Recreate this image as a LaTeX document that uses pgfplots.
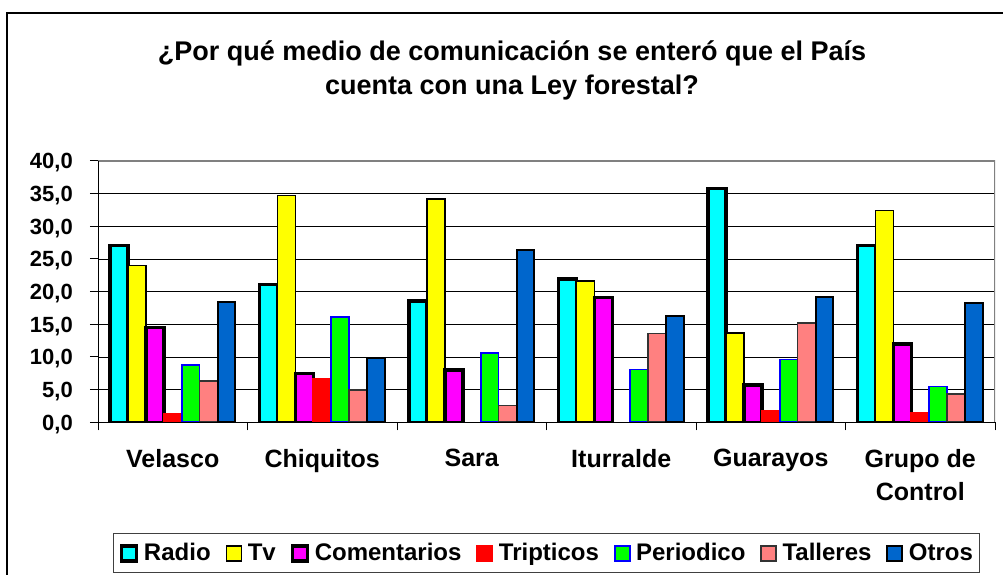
\documentclass[border=0pt]{standalone}
\usepackage{pgfplots}
\pgfplotsset{compat=1.18}
\usepackage{fontspec}
\setmainfont{Liberation Sans}

\definecolor{cRadio}{HTML}{00FFFF}
\definecolor{cTv}{HTML}{FFFF00}
\definecolor{cCom}{HTML}{FF00FF}
\definecolor{cTri}{HTML}{FF0000}
\definecolor{cPer}{HTML}{00FF00}
\definecolor{cTal}{HTML}{FF8080}
\definecolor{cOtr}{HTML}{0066CC}
\definecolor{cFrame}{HTML}{808080}

\begin{document}
\begin{tikzpicture}
\useasboundingbox (0pt,0pt) rectangle (1003pt,575pt);
% outer chart frame
\draw[line width=1.2pt] (7pt,-2pt) -- (7pt,562pt) -- (1005pt,562pt);

% title
\node[font=\fontsize{27}{34}\selectfont\bfseries, anchor=base, inner sep=0pt]
  at (512pt,514.5pt) {¿Por qué medio de comunicación se enteró que el País};
\node[font=\fontsize{27}{34}\selectfont\bfseries, anchor=base, inner sep=0pt]
  at (512pt,480pt) {cuenta con una Ley forestal?};

\begin{axis}[
    at={(98pt,152.7pt)}, anchor=south west,
    scale only axis,
    width=897pt, height=261.3pt,
    ybar=0pt, bar width=17.9pt,
    xmin=-0.5, xmax=5.5,
    ymin=0, ymax=40,
    axis line style={draw=none},
    ymajorgrids,
    grid style={black, line width=0.9pt},
    tick align=outside,
    major tick length=8pt,
    xtick pos=bottom, ytick pos=left,
    ytick={0,5,...,40},
    yticklabels={{0,0},{5,0},{10,0},{15,0},{20,0},{25,0},{30,0},{35,0},{40,0}},
    ytick style={black, line width=1pt},
    yticklabel style={font=\fontsize{22}{26}\selectfont\bfseries,
        anchor=base east, inner sep=0pt, xshift=-17pt, yshift=-7.9pt},
    xtick={0,1,2,3,4,5},
    xticklabels={Velasco,Chiquitos,Sara,Iturralde,Guarayos,{Grupo de\\Control}},
    xtick style={draw=none},
    xticklabel style={font=\fontsize{25}{33}\selectfont\bfseries,
        align=center, anchor=north, inner sep=0pt, yshift=-18.5pt},
    extra x ticks={-0.5,0.5,1.5,2.5,3.5,4.5,5.5},
    extra x tick labels={},
    extra x tick style={xtick style={draw=black, line width=1pt}},
    legend columns=7,
    legend image code/.code={\draw[#1] (0pt,0pt) rectangle (15pt,15pt);},
    legend style={at={(0.5,-0.5002)}, anchor=center,
        draw=black!75, line width=1pt,
        font=\fontsize{24}{28}\selectfont\bfseries,
        inner xsep=6pt, inner ysep=9.5pt,
        nodes={inner sep=0pt, anchor=base west},
        /tikz/every odd column/.append style={column sep=5.5pt},
        /tikz/every even column/.append style={column sep=15pt}},
]

% Radio
\addplot[fill=cRadio, draw=black, line width=3.5pt] coordinates {
    (0,27.1) (1,21.1) (2,18.6) (3,21.9) (4,35.8) (5,27.1)};
\addlegendentry{Radio}
% Tv
\addplot[fill=cTv, draw=black, line width=1.6pt] coordinates {
    (0,24.0) (1,34.7) (2,34.2) (3,21.6) (4,13.7) (5,32.4)};
\addlegendentry{Tv}
% Comentarios
\addplot[fill=cCom, draw=black, line width=3.5pt] coordinates {
    (0,14.5) (1,7.5) (2,8.0) (3,19.1) (4,5.7) (5,12.0)};
\addlegendentry{Comentarios}
% Tripticos (no value for Sara and Iturralde)
\addplot[fill=cTri, draw=cTri, line width=2pt] coordinates {
    (0,1.2) (1,6.7) (4,1.8) (5,1.5)};
\addlegendentry{Tripticos}
% Periodico
\addplot[fill=cPer, draw=blue, line width=1.6pt] coordinates {
    (0,8.8) (1,16.1) (2,10.6) (3,8.1) (4,9.6) (5,5.5)};
\addlegendentry{Periodico}
% Talleres
\addplot[fill=cTal, draw=black!80, line width=1.6pt] coordinates {
    (0,6.3) (1,4.9) (2,2.6) (3,13.6) (4,15.2) (5,4.3)};
\addlegendentry{Talleres}
% Otros
\addplot[fill=cOtr, draw=black, line width=2pt] coordinates {
    (0,18.4) (1,9.8) (2,26.4) (3,16.3) (4,19.2) (5,18.3)};
\addlegendentry{Otros}

% plot area frame: gray top/right, black axes left/bottom
\draw[cFrame, line width=2pt] (rel axis cs:0,1) -- (rel axis cs:1,1) -- (rel axis cs:1,0);
\draw[black, line width=1pt] (rel axis cs:0,1) -- (rel axis cs:0,0) -- (rel axis cs:1,0);
\end{axis}
\end{tikzpicture}
\end{document}
